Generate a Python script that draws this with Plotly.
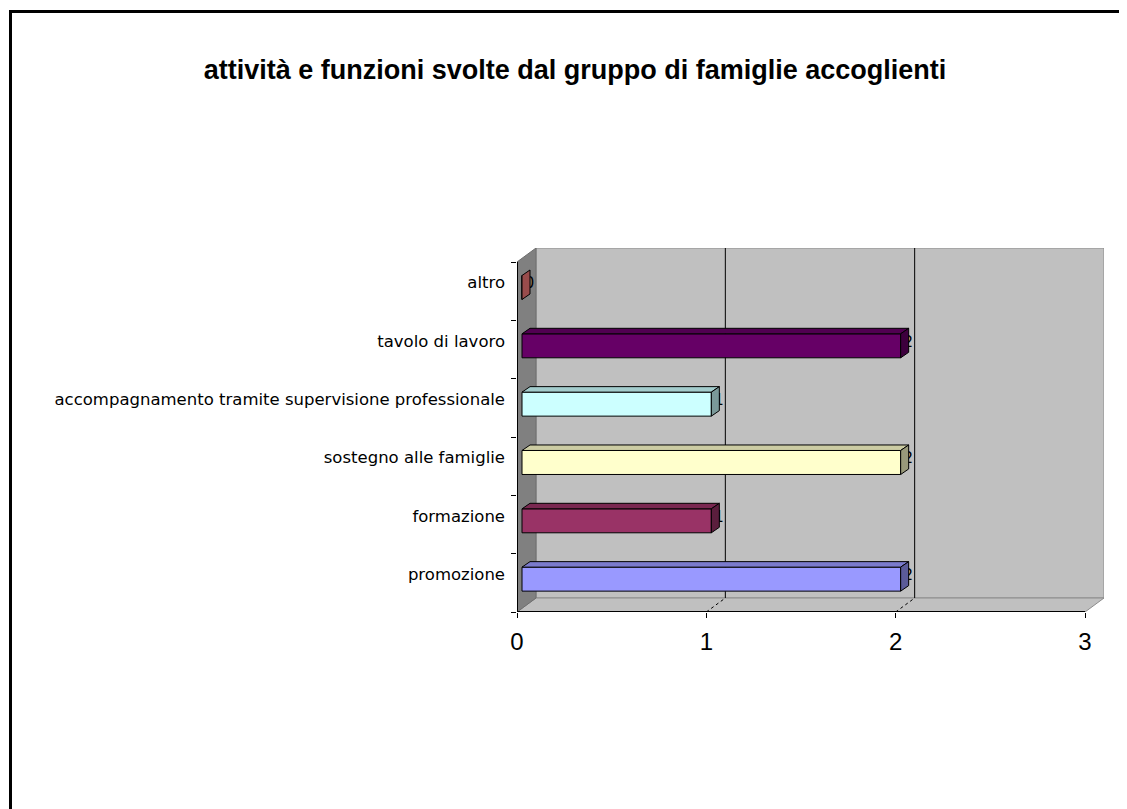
import plotly.graph_objects as go

# ---------------- data ----------------
categories = [
    "promozione",
    "formazione",
    "sostegno alle famiglie",
    "accompagnamento tramite supervisione professionale",
    "tavolo di lavoro",
    "altro",
]
values = [2, 1, 2, 1, 2, 0]
colors = ["#9999FF", "#993366", "#FFFFCC", "#CCFFFF", "#660066", "#FF8080"]
x_ticks = [0, 1, 2, 3]
title_text = "attività e funzioni svolte dal gruppo di famiglie accoglienti"

# ---------------- geometry (page pixels) ----------------
OFF = 8                                   # default page body margin
WIN_W, WIN_H = 1127, 809
W, H = WIN_W - OFF, WIN_H - OFF           # figure size
PL, PR, PT, PB = 517 - OFF, 1104 - OFF, 248 - OFF, 612 - OFF   # plot-area box (figure px)
DEPTH = (19, 14)                          # 3-D depth offset of the walls (px)
XMAX = x_ticks[-1]
N = len(categories)
ux = (PR - PL - DEPTH[0]) / XMAX          # px per x unit
uy = (PB - PT - DEPTH[1]) / N             # px per category band
DX, DY = DEPTH[0] / ux, DEPTH[1] / uy

BAR_FRONT = (5, 3.7)      # bar front face offset from the front plane (px)
BAR_DEPTH = (8, 5.5)      # bar depth (px)
BAR_H = 24                # bar thickness (px)
LABEL_SHIFT = 8.5         # category label shift up (px)

b0 = BAR_FRONT[0] / ux
ysh = BAR_FRONT[1] / uy
bdx, bdy = BAR_DEPTH[0] / ux, BAR_DEPTH[1] / uy
bh = BAR_H / uy


def shade(hexc, f):
    h = hexc.lstrip("#")
    r, g, b = (int(h[i:i + 2], 16) for i in (0, 2, 4))
    return "#%02X%02X%02X" % (int(r * f), int(g * f), int(b * f))


fig = go.Figure()

# front faces of the bars
fig.add_trace(go.Bar(
    orientation="h",
    x=values,
    y=[i + ysh for i in range(N)],
    base=b0,
    width=bh,
    marker=dict(color=colors, line=dict(color="black", width=1)),
    showlegend=False,
    hoverinfo="skip",
))

# data labels (mostly hidden behind the bar ends, as in the original)
fig.add_trace(go.Scatter(
    x=[b0 + v + bdx * 0.35 for v in values],
    y=[i + ysh + bdy / 2 for i in range(N)],
    mode="text",
    text=[str(v) for v in values],
    textposition="middle right",
    textfont=dict(family="DejaVu Sans", size=15, color="black"),
    showlegend=False,
    hoverinfo="skip",
))

# top and side faces
for i, (v, c) in enumerate(zip(values, colors)):
    x0, x1 = b0, b0 + v
    y0, y1 = i + ysh - bh / 2, i + ysh + bh / 2
    if v > 0:
        fig.add_trace(go.Scatter(
            x=[x0, x1, x1 + bdx, x0 + bdx, x0],
            y=[y1, y1, y1 + bdy, y1 + bdy, y1],
            mode="lines", fill="toself", fillcolor=shade(c, 0.8),
            line=dict(color="black", width=1),
            showlegend=False, hoverinfo="skip",
        ))
    fig.add_trace(go.Scatter(
        x=[x1, x1 + bdx, x1 + bdx, x1, x1],
        y=[y0, y0 + bdy, y1 + bdy, y1, y0],
        mode="lines", fill="toself", fillcolor=shade(c, 0.6),
        line=dict(color="black", width=1),
        showlegend=False, hoverinfo="skip",
    ))

# ---------------- walls / floor / gridlines ----------------
ylo, yhi = -0.5, N - 0.5
shapes = []
# back wall
shapes.append(dict(type="rect", xref="x", yref="y", layer="below",
                   x0=DX, x1=XMAX + DX, y0=ylo + DY, y1=yhi + DY,
                   fillcolor="#C0C0C0", line=dict(color="#8C8C8C", width=1)))
# floor
shapes.append(dict(type="path", xref="x", yref="y", layer="below",
                   path=f"M0,{ylo} L{XMAX},{ylo} L{XMAX + DX},{ylo + DY} L{DX},{ylo + DY} Z",
                   fillcolor="#C0C0C0", line=dict(color="#8C8C8C", width=1)))
# left side wall
shapes.append(dict(type="path", xref="x", yref="y", layer="below",
                   path=f"M0,{ylo} L{DX},{ylo + DY} L{DX},{yhi + DY} L0,{yhi} Z",
                   fillcolor="#808080", line=dict(color="#6E6E6E", width=1)))
# gridlines on the back wall + floor
for t in x_ticks[1:-1]:
    shapes.append(dict(type="line", xref="x", yref="y", layer="below",
                       x0=t + DX, x1=t + DX, y0=ylo + DY, y1=yhi + DY,
                       line=dict(color="black", width=1)))
    shapes.append(dict(type="line", xref="x", yref="y", layer="below",
                       x0=t, x1=t + DX, y0=ylo, y1=ylo + DY,
                       line=dict(color="black", width=1, dash="dot")))
# front axes
shapes.append(dict(type="line", xref="x", yref="y",
                   x0=0, x1=XMAX, y0=ylo, y1=ylo,
                   line=dict(color="black", width=2)))
shapes.append(dict(type="line", xref="x", yref="y",
                   x0=0, x1=0, y0=ylo, y1=yhi,
                   line=dict(color="black", width=2)))


# outer chart border (figure pixels -> paper)
def px2paper_x(px):
    return (px - PL) / (PR - PL)


def px2paper_y(py):
    return (PB - py) / (PB - PT)


shapes.append(dict(type="rect", xref="paper", yref="paper",
                   x0=px2paper_x(10.5 - OFF), x1=px2paper_x(W + 20),
                   y0=px2paper_y(H + 20), y1=px2paper_y(11.5 - OFF),
                   line=dict(color="black", width=3), fillcolor="rgba(0,0,0,0)"))

fig.update_layout(
    width=W, height=H,
    margin=dict(l=PL, r=W - PR, t=PT, b=H - PB, pad=0),
    paper_bgcolor="white", plot_bgcolor="white",
    showlegend=False,
    shapes=shapes,
    title=dict(text=title_text, xref="container", yref="container",
               x=(575 - OFF) / W, y=1 - (70 - OFF) / H, xanchor="center", yanchor="middle",
               font=dict(family="Liberation Sans", size=27, color="black", weight=700)),
    xaxis=dict(range=[0, XMAX + DX], tickvals=x_ticks, ticktext=[str(t) for t in x_ticks],
               showgrid=False, zeroline=False, showline=False,
               ticks="outside", ticklen=5, tickwidth=1, tickcolor="black",
               ticklabelstandoff=3,
               tickfont=dict(family="Liberation Sans Narrow, Liberation Sans", size=24, color="black")),
    yaxis=dict(range=[ylo, yhi + DY],
               tickvals=[i + LABEL_SHIFT / uy for i in range(N)], ticktext=categories,
               showgrid=False, zeroline=False, showline=False, ticks="",
               ticklabelstandoff=11,
               minor=dict(tickmode="array", tickvals=[k - 0.5 for k in range(N + 1)],
                          ticks="outside", ticklen=5, tickwidth=1, tickcolor="black",
                          showgrid=False),
               tickfont=dict(family="DejaVu Sans", size=16.5, color="black")),
)

fig.write_html("out.html")
